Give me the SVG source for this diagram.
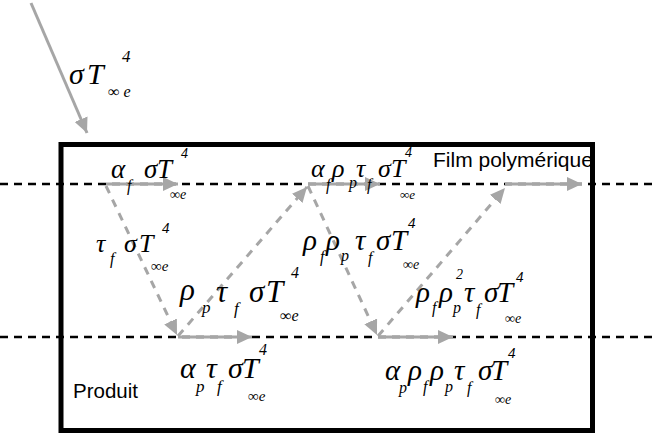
<svg xmlns="http://www.w3.org/2000/svg" width="658" height="435" viewBox="0 0 658 435">
<style>
.m{font-family:"Liberation Serif","DejaVu Serif",serif;font-style:italic;fill:#000}
.s{font-family:"Liberation Serif","DejaVu Serif",serif;font-style:italic;fill:#000}
.lbl{font-family:"Liberation Sans",Arial,sans-serif;fill:#000}
.bd{stroke:#000;stroke-width:2.5;stroke-dasharray:8 6;fill:none}
.ga{stroke:#a6a6a6;stroke-width:3;fill:none;marker-end:url(#ah)}
.gd{stroke:#a6a6a6;stroke-width:3;fill:none;stroke-dasharray:8 7;marker-end:url(#ah)}
</style>
<defs>
<marker id="ah" markerUnits="userSpaceOnUse" markerWidth="16" markerHeight="14" refX="15" refY="7" orient="auto">
<path d="M0,0 L15,7 L0,14 z" fill="#a6a6a6"/>
</marker>
</defs>
<rect width="658" height="435" fill="#fff"/>
<g id="lines">
<line class="bd" x1="0" y1="184" x2="658" y2="184"/>
<line class="bd" x1="0" y1="337" x2="658" y2="337"/>
</g>
<g id="box">
<rect x="61" y="144.5" width="531.5" height="286" fill="none" stroke="#000" stroke-width="5"/>
<text class="lbl" x="433" y="167" font-size="21">Film polymérique</text>
<text class="lbl" x="73" y="398" font-size="20.5">Produit</text>
</g>
<g id="connectors">
<line class="ga" x1="31" y1="3" x2="87" y2="133"/>
<line class="ga" x1="106" y1="184" x2="178" y2="184"/>
<line class="ga" x1="308" y1="184" x2="380" y2="184"/>
<line class="ga" x1="505" y1="184" x2="582" y2="184"/>
<line class="ga" x1="178" y1="337" x2="252" y2="337"/>
<line class="ga" x1="378" y1="337" x2="453" y2="337"/>
<line class="gd" x1="106" y1="186" x2="177" y2="335"/>
<line class="gd" x1="178" y1="336" x2="307" y2="187"/>
<line class="gd" x1="308" y1="186" x2="377" y2="335"/>
<line class="gd" x1="378" y1="336" x2="505" y2="188"/>
</g>
<g id="n-incident">
<text class="m" font-size="30"><tspan x="69" y="84">σ</tspan><tspan x="87" y="84">T</tspan></text>
<text class="s" font-size="17" x="122" y="62">4</text>
<text class="s" font-size="16" x="108" y="97">∞ e</text>
</g>
<g id="n-af">
<text class="m" font-size="27"><tspan x="111" y="178">α</tspan><tspan x="144" y="178">σ</tspan><tspan x="157" y="178">T</tspan></text>
<text class="s" font-size="16" x="127" y="191">f</text>
<text class="s" font-size="14" x="181" y="158">4</text>
<text class="s" font-size="14" x="170" y="199">∞e</text>
</g>
<g id="n-tf">
<text class="m" font-size="26"><tspan x="96" y="252">τ</tspan><tspan x="124" y="252">σ</tspan><tspan x="139" y="252">T</tspan></text>
<text class="s" font-size="16" x="110" y="264">f</text>
<text class="s" font-size="15" x="162" y="233">4</text>
<text class="s" font-size="15" x="151" y="271">∞e</text>
</g>
<g id="n-rptf">
<text class="m" font-size="31"><tspan x="180" y="300">ρ</tspan><tspan x="216" y="302">τ</tspan><tspan x="249" y="302">σ</tspan><tspan x="266" y="302">T</tspan></text>
<text class="s" font-size="17" x="202" y="313">p</text>
<text class="s" font-size="17" x="234" y="314">f</text>
<text class="s" font-size="16" x="291" y="278">4</text>
<text class="s" font-size="16" x="280" y="321">∞e</text>
</g>
<g id="n-aptf">
<text class="m" font-size="30"><tspan x="180" y="378">α</tspan><tspan x="206" y="378">τ</tspan><tspan x="228" y="378">σ</tspan><tspan x="242" y="378">T</tspan></text>
<text class="s" font-size="17" x="196" y="392">p</text>
<text class="s" font-size="17" x="217" y="392">f</text>
<text class="s" font-size="16" x="259" y="355">4</text>
<text class="s" font-size="15" x="248" y="401">∞e</text>
</g>
<g id="n-afrptf">
<text class="m" font-size="26"><tspan x="311" y="177">α</tspan><tspan x="332" y="177">ρ</tspan><tspan x="356" y="177">τ</tspan><tspan x="378" y="177">σ</tspan><tspan x="391" y="177">T</tspan></text>
<text class="s" font-size="16" x="326" y="190">f</text>
<text class="s" font-size="16" x="349" y="188">p</text>
<text class="s" font-size="16" x="367" y="190">f</text>
<text class="s" font-size="14" x="405" y="157">4</text>
<text class="s" font-size="13" x="400" y="199">∞e</text>
</g>
<g id="n-rfrptf">
<text class="m" font-size="29"><tspan x="303" y="250">ρ</tspan><tspan x="326" y="250">ρ</tspan><tspan x="355" y="250">τ</tspan><tspan x="376" y="250">σ</tspan><tspan x="391" y="250">T</tspan></text>
<text class="s" font-size="16" x="320" y="262">f</text>
<text class="s" font-size="16" x="341" y="261">p</text>
<text class="s" font-size="16" x="368" y="263">f</text>
<text class="s" font-size="15" x="408" y="228">4</text>
<text class="s" font-size="14" x="403" y="269">∞e</text>
</g>
<g id="n-rfrp2tf">
<text class="m" font-size="29"><tspan x="416" y="302">ρ</tspan><tspan x="439" y="302">ρ</tspan><tspan x="464" y="302">τ</tspan><tspan x="484" y="302">σ</tspan><tspan x="497" y="302">T</tspan></text>
<text class="s" font-size="16" x="432" y="313">f</text>
<text class="s" font-size="14" x="456" y="279">2</text>
<text class="s" font-size="16" x="453" y="313">p</text>
<text class="s" font-size="16" x="476" y="315">f</text>
<text class="s" font-size="15" x="516" y="282">4</text>
<text class="s" font-size="14" x="505" y="323">∞e</text>
</g>
<g id="n-aprfrptf">
<text class="m" font-size="29"><tspan x="385" y="380">α</tspan><tspan x="408" y="380">ρ</tspan><tspan x="430" y="380">ρ</tspan><tspan x="454" y="380">τ</tspan><tspan x="478" y="380">σ</tspan><tspan x="491" y="380">T</tspan></text>
<text class="s" font-size="16" x="399" y="393">p</text>
<text class="s" font-size="16" x="423" y="392">f</text>
<text class="s" font-size="16" x="445" y="392">p</text>
<text class="s" font-size="16" x="467" y="393">f</text>
<text class="s" font-size="15" x="508" y="358">4</text>
<text class="s" font-size="14" x="495" y="404">∞e</text>
</g>
</svg>
